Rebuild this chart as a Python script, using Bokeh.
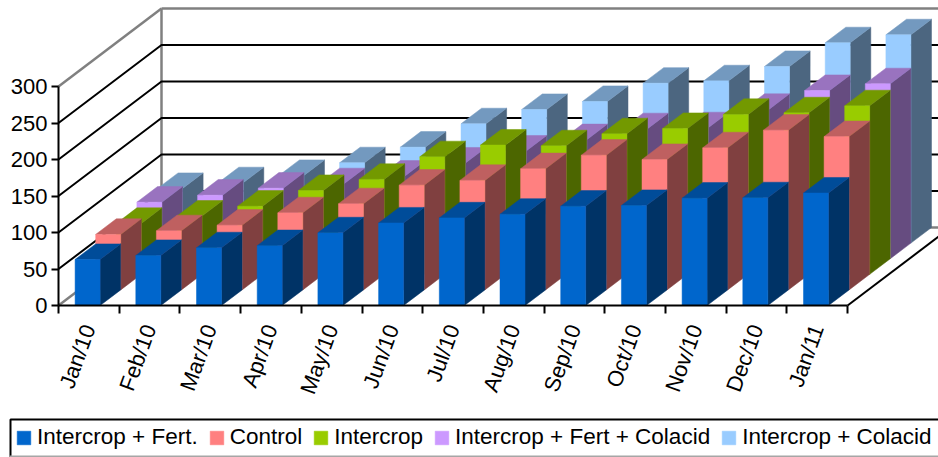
from bokeh.plotting import figure
from bokeh.embed import file_html
from bokeh.resources import INLINE
from bokeh.models import Range1d, FixedTicker, Legend, LegendItem, LinearAxis, BoxAnnotation

categories = ["Jan/10", "Feb/10", "Mar/10", "Apr/10", "May/10", "Jun/10", "Jul/10",
              "Aug/10", "Sep/10", "Oct/10", "Nov/10", "Dec/10", "Jan/11"]

intercrop_fert = [63, 68.5, 79, 82, 99.5, 113, 120, 125, 136, 137, 147, 147.5, 154]
control = [76, 81, 88.6, 105.6, 118, 143.5, 150, 166, 184.5, 178.6, 194.6, 218.8, 210]
intercrop = [69.7, 79.7, 93.3, 114.8, 130, 161, 177, 176, 192.5, 199.7, 219, 221.2, 230.8]
intercrop_fert_colacid = [77.4, 87, 96.6, 102.6, 113, 131, 147.4, 163, 178, 179.3, 204.5, 230.4, 239.6]
intercrop_colacid = [74.8, 82.6, 92.6, 110, 131.4, 163.4, 183, 194, 219, 222.3, 241.9, 274.4, 285.3]

series = [
    ("Intercrop + Fert.", intercrop_fert, "#0066CC", "#004C99", "#003366"),
    ("Control", control, "#FF8080", "#BF6060", "#804040"),
    ("Intercrop", intercrop, "#99CC00", "#739900", "#4C6600"),
    ("Intercrop + Fert + Colacid", intercrop_fert_colacid, "#CC99FF", "#9973BF", "#664C80"),
    ("Intercrop + Colacid", intercrop_colacid, "#99CCFF", "#7399BF", "#4C6680"),
]

y_ticks = [0, 50, 100, 150, 200, 250, 300]

# oblique projection, in data units
PX_X = 60.7      # pixels per category
PX_Y = 0.73      # pixels per value unit
DX = 20.6 / PX_X  # shift per series along the depth axis
DY = 15.6 / PX_Y
BAR_OFF = 16.6 / PX_X
BAR_W = 25 / PX_X
N = len(categories)
DEPTH = 5
WALL_X = 103 / PX_X
WALL_Y = 78 / PX_Y
YMAX = y_ticks[-1]

p = figure(width=938, height=457, output_backend="svg", toolbar_location=None,
           x_range=Range1d(-58 / PX_X, 880 / PX_X), y_range=Range1d(-152 / PX_Y, 305 / PX_Y),
           min_border_left=0, min_border_right=0, min_border_top=0, min_border_bottom=0,
           x_axis_type=None, y_axis_type=None, outline_line_color=None)
p.grid.visible = False

FONT = "Liberation Sans"
# walls
gray = "#808080"
p.line([0, WALL_X], [YMAX, YMAX + WALL_Y], line_color=gray, line_width=2.5)
p.line([WALL_X, WALL_X + N + 2], [YMAX + WALL_Y] * 2, line_color=gray, line_width=2.5)
p.line([WALL_X, WALL_X], [WALL_Y, YMAX + WALL_Y], line_color=gray, line_width=2.5)
p.line([0, WALL_X], [0, WALL_Y], line_color=gray, line_width=2.5)
p.line([WALL_X, WALL_X + N], [WALL_Y, WALL_Y], line_color=gray, line_width=2.5)
# gridlines
for t in y_ticks[1:-1]:
    p.line([0, WALL_X, WALL_X + N], [t, t + WALL_Y, t + WALL_Y], line_color="black", line_width=2)
# floor edge
p.line([N, N + WALL_X], [0, WALL_Y], line_color="black", line_width=2)

legend_items = []
for d in range(DEPTH - 1, -1, -1):
    name, vals, c_front, c_top, c_side = series[d]
    ox = d * DX
    oy = d * DY
    fx, fy, tx, ty, sx, sy = [], [], [], [], [], []
    for i, v in enumerate(vals):
        x0 = i + BAR_OFF + ox
        x1 = x0 + BAR_W
        y0 = oy
        y1 = oy + v
        fx.append([x0, x1, x1, x0])
        fy.append([y0, y0, y1, y1])
        tx.append([x0, x1, x1 + DX, x0 + DX])
        ty.append([y1, y1, y1 + DY, y1 + DY])
        sx.append([x1, x1 + DX, x1 + DX, x1])
        sy.append([y0, y0 + DY, y1 + DY, y1])
    p.patches(sx, sy, fill_color=c_side, line_color=c_side, line_width=0.5)
    p.patches(tx, ty, fill_color=c_top, line_color=c_top, line_width=0.5)
    r = p.patches(fx, fy, fill_color=c_front, line_color=c_front, line_width=0.5)
    legend_items.insert(0, LegendItem(label=name, renderers=[r]))

# y axis
ya = LinearAxis(bounds=(0, YMAX), fixed_location=0, ticker=FixedTicker(ticks=y_ticks))
ya.axis_line_color = "black"
ya.axis_line_width = 2
ya.major_tick_line_color = "black"
ya.major_tick_line_width = 2
ya.major_tick_out = 7
ya.major_tick_in = 0
ya.minor_tick_line_color = None
ya.major_label_text_font = FONT
ya.major_label_text_font_size = "22px"
ya.major_label_text_color = "black"
ya.major_label_standoff = 4
p.add_layout(ya, "left")

# x axis: labels centred between tick marks
xa = LinearAxis(bounds=(0, N), fixed_location=0,
                ticker=FixedTicker(ticks=[i + 0.5 for i in range(N)],
                                   minor_ticks=list(range(N + 1))))
xa.major_label_overrides = {i + 0.5: c for i, c in enumerate(categories)}
xa.axis_line_color = "black"
xa.axis_line_width = 2
xa.major_tick_line_color = None
xa.major_tick_out = 0
xa.major_tick_in = 0
xa.minor_tick_line_color = "black"
xa.minor_tick_line_width = 2
xa.minor_tick_out = 8
xa.minor_tick_in = 0
xa.major_label_orientation = 1.22
xa.major_label_standoff = 12
xa.major_label_text_font = FONT
xa.major_label_text_font_size = "22px"
xa.major_label_text_color = "black"
p.add_layout(xa, "below")

legend = Legend(items=legend_items, orientation="horizontal", location=(15, 7),
                margin=0, padding=4, spacing=10, label_standoff=5,
                glyph_width=17, glyph_height=17,
                label_text_font=FONT, label_text_font_size="22.5px", label_text_color="black",
                border_line_color=None, background_fill_alpha=0, label_height=22)
p.add_layout(legend, "center")

box = BoxAnnotation(left=10, right=945, top=38, bottom=-4,
                    left_units="screen", right_units="screen", top_units="screen", bottom_units="screen",
                    fill_alpha=0, line_color="black", line_width=2, line_alpha=1)
p.add_layout(box)
box_bottom = BoxAnnotation(left=9, right=945, top=2, bottom=0,
                           left_units="screen", right_units="screen", top_units="screen", bottom_units="screen",
                           fill_color="#A6A6A6", fill_alpha=1, line_color=None)
p.add_layout(box_bottom)

open("out.html", "w").write(file_html(p, INLINE))
